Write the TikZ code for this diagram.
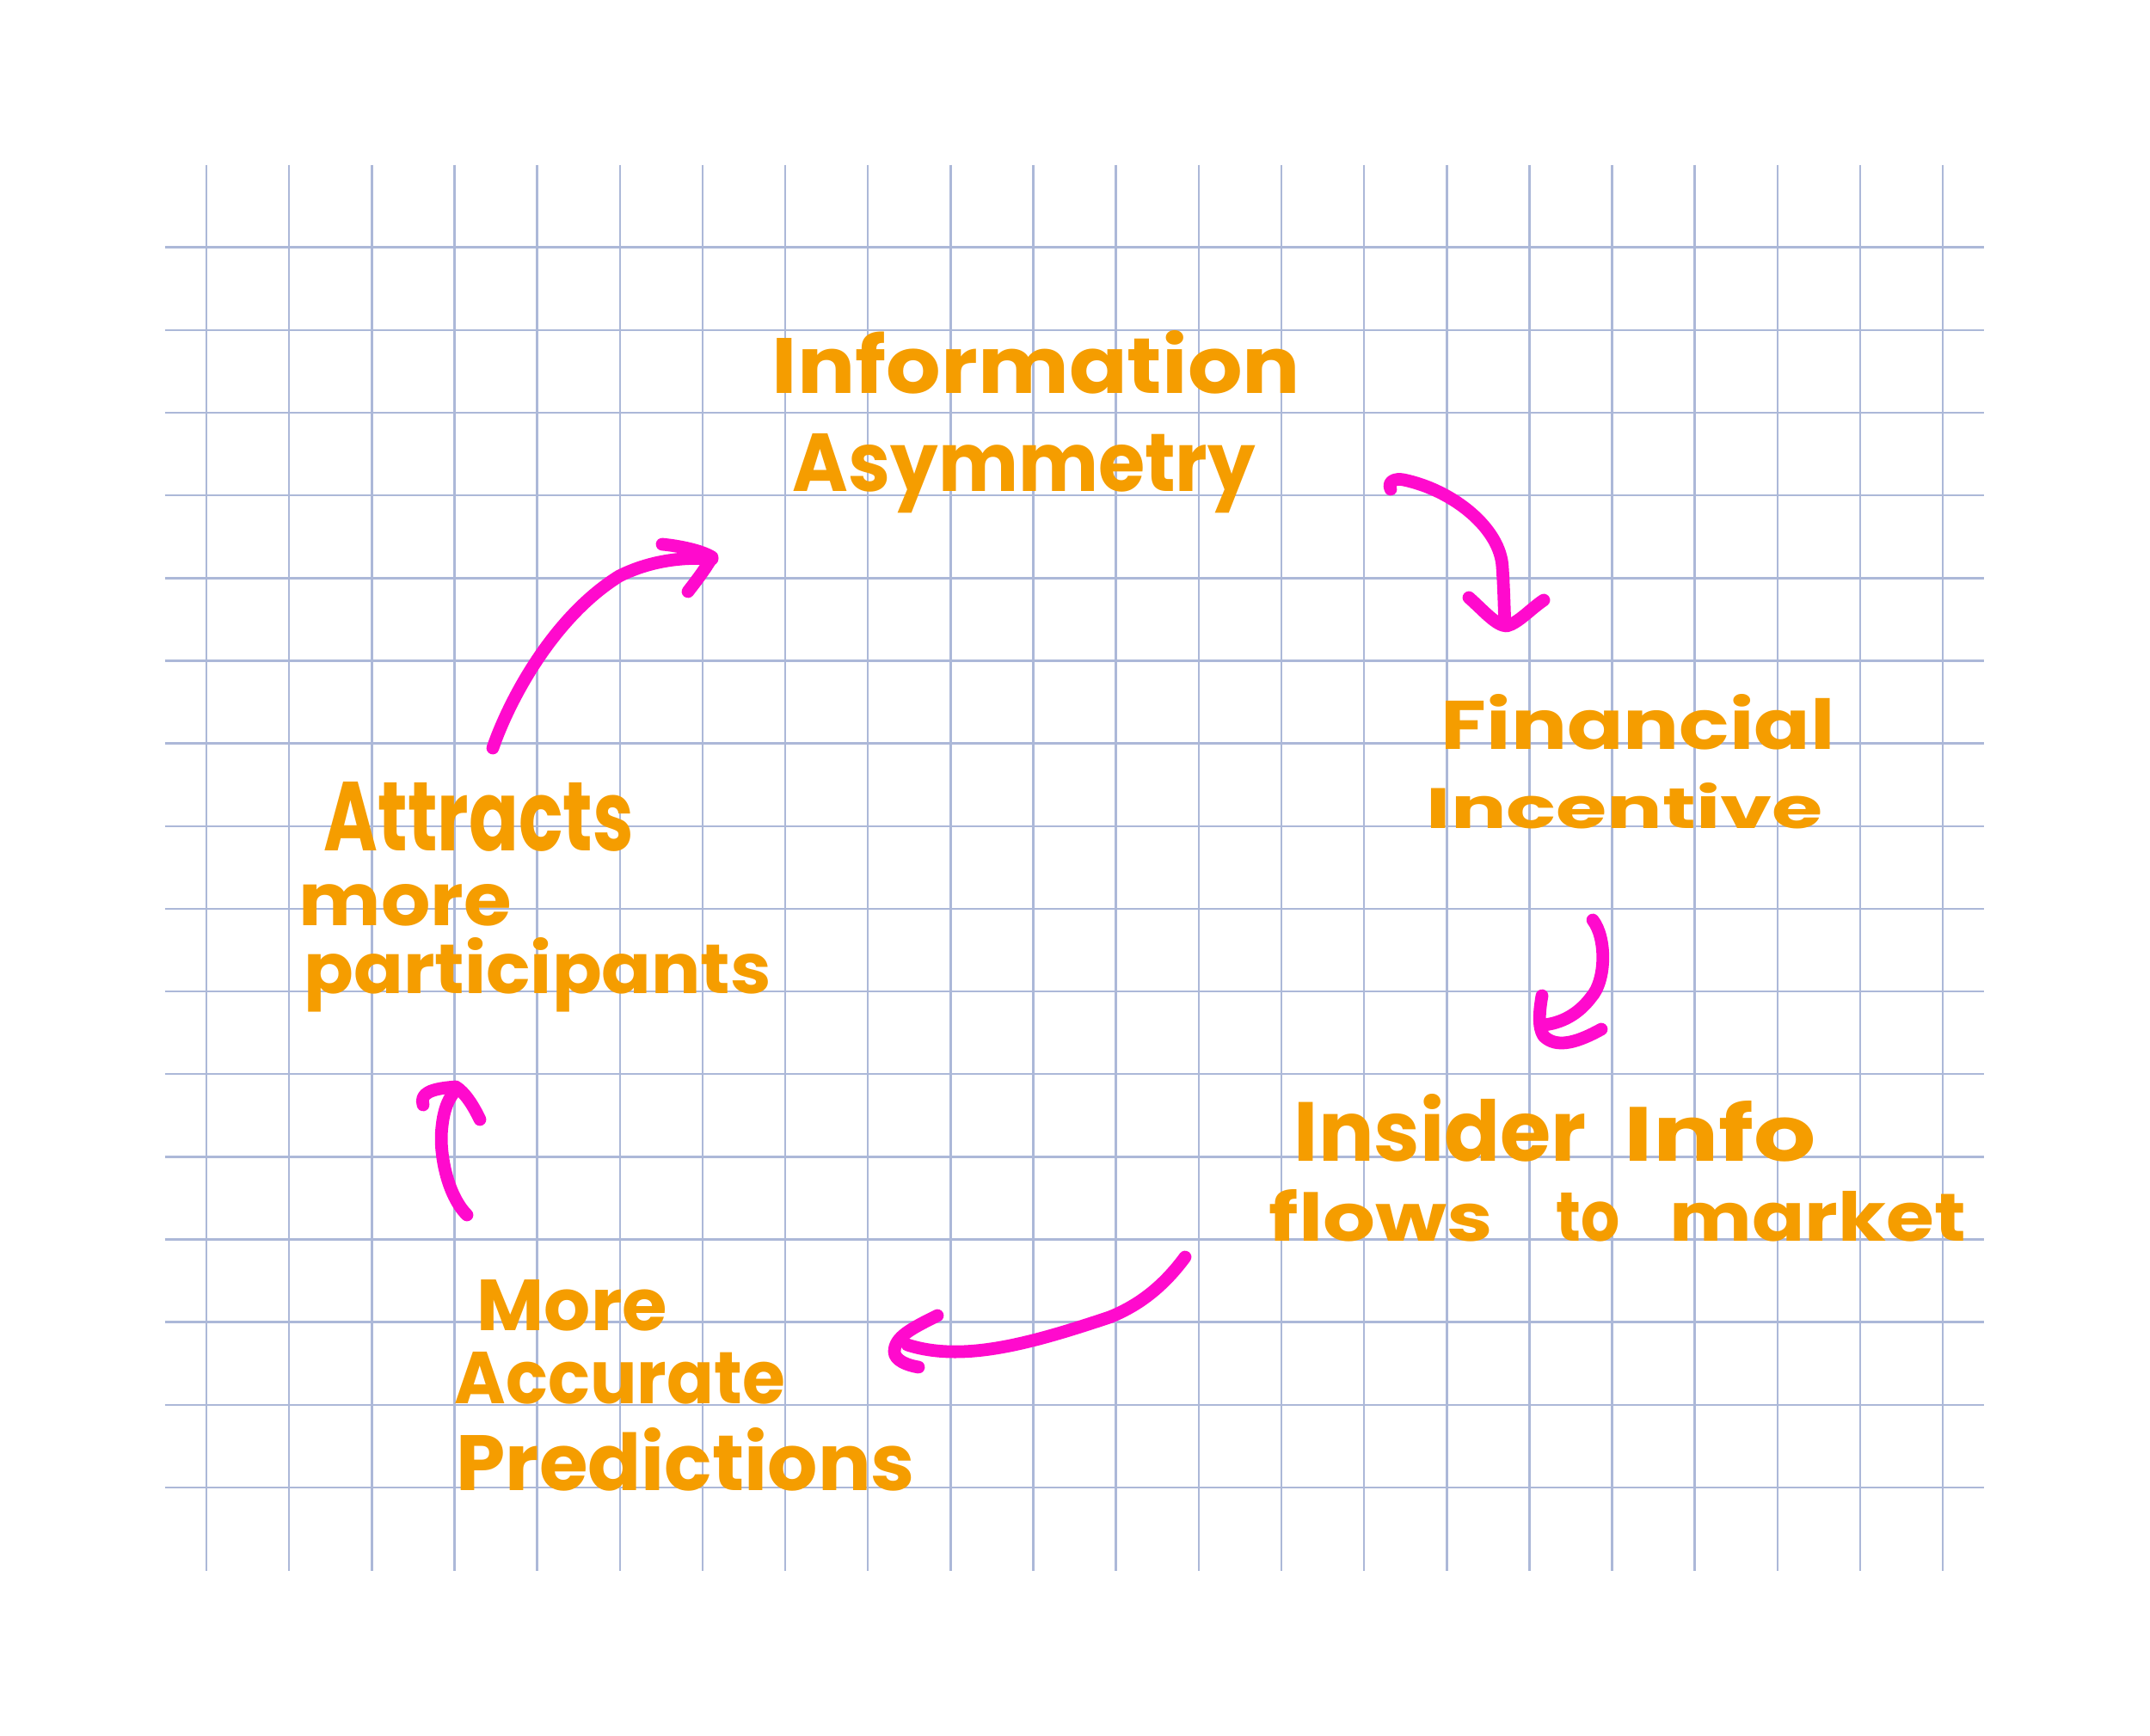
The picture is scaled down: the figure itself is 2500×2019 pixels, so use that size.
\documentclass[tikz,border=0pt]{standalone}
\usepackage{fontspec}
\setmainfont{Poppins}
\usepackage{graphicx}
\definecolor{gridC}{RGB}{172,184,216}
\definecolor{orangeC}{RGB}{245,157,0}
\definecolor{pinkC}{RGB}{255,10,205}
\newcommand{\hw}[3]{\resizebox{#1}{#2}{#3}}
\tikzset{
  gridline/.style={draw=gridC, line width=0.7pt},
  txt/.style={anchor=base west, inner sep=0pt, text=orangeC, font=\bfseries},
  pen/.style={draw=pinkC, line width=4.2pt, line cap=round, line join=round}
}
\begin{document}
\begin{tikzpicture}[x=0.01cm,y=-0.01cm]
\useasboundingbox[fill=white] (0,0) rectangle (2500,2019);
% grid
\foreach \i in {0,...,21}
  \draw[gridline] ({240+96.15*\i},191.7) -- ({240+96.15*\i},1826.7);
\foreach \j in {0,...,15}
  \draw[gridline] (191.7,{287.7+96.15*\j}) -- (2307,{287.7+96.15*\j});
% texts
\node[txt] (ia1) at (897,458) {\hw{6.14cm}{0.73cm}{Information}};
\node[txt] (ia2) at (921,572) {\hw{5.38cm}{0.67cm}{Asymmetry}};
\node[txt] (fi1) at (1675,872) {\hw{4.58cm}{0.64cm}{Financial}};
\node[txt] (fi2) at (1658,963) {\hw{4.61cm}{0.53cm}{Incentive}};
\node[txt] (in1a) at (1504,1350) {\hw{3.40cm}{0.78cm}{Insider}};
\node[txt] (in1b) at (1888,1350) {\hw{2.23cm}{0.70cm}{Info}};
\node[txt] (in2a) at (1475,1443) {\hw{2.60cm}{0.60cm}{flows}};
\node[txt] (in2b) at (1809,1443) {\hw{0.74cm}{0.56cm}{to}};
\node[txt] (in2c) at (1941,1443) {\hw{3.44cm}{0.58cm}{market}};
\node[txt] (pr1) at (554,1547) {\hw{2.21cm}{0.59cm}{More}};
\node[txt] (pr2) at (528,1632) {\hw{3.84cm}{0.60cm}{Accurate}};
\node[txt] (pr3) at (530,1733) {\hw{5.33cm}{0.73cm}{Predictions}};
\node[txt] (at1) at (376,990) {\hw{3.60cm}{0.80cm}{Attracts}};
\node[txt] (at2) at (347,1077) {\hw{2.47cm}{0.48cm}{more}};
\node[txt] (at3) at (353,1155) {\hw{5.43cm}{0.65cm}{participants}};
% arrow end points
\coordinate (a1s) at (1617,569);
\coordinate (a1e) at (1750,727);
\coordinate (a2s) at (1852,1070);
\coordinate (a2e) at (1795,1192);
\coordinate (a3s) at (1378,1462);
\coordinate (a3e) at (1055,1564);
\coordinate (a4s) at (543,1413);
\coordinate (a4e) at (532,1266);
\coordinate (a5s) at (573,870);
\coordinate (a5e) at (828,650);
% arrow 1: Information Asymmetry -> Financial Incentive
\draw[pen] (a1s) .. controls (1613,560) and (1622,556) .. (1632,558)
  .. controls (1690,570) and (1745,615) .. (1747,660)
  .. controls (1749,690) and (1749,710) .. (a1e);
\draw[pen] (1708,695) .. controls (1725,710) and (1740,728) .. (1752,728)
  .. controls (1765,725) and (1780,708) .. (1795,698);
% arrow 2: Financial Incentive -> Insider Info
\draw[pen] (a2s) .. controls (1868,1090) and (1868,1140) .. (1850,1160)
  .. controls (1835,1180) and (1815,1190) .. (a2e);
\draw[pen] (1793,1158) .. controls (1790,1175) and (1788,1195) .. (1795,1205)
  .. controls (1810,1220) and (1835,1212) .. (1862,1197);
% arrow 3: Insider Info -> More Accurate Predictions
\draw[pen] (a3s) .. controls (1350,1500) and (1320,1520) .. (1290,1532)
  .. controls (1200,1562) and (1120,1585) .. (a3e);
\draw[pen] (1090,1530) .. controls (1060,1545) and (1040,1555) .. (1040,1572)
  .. controls (1040,1582) and (1055,1588) .. (1068,1590);
% arrow 4: More Accurate Predictions -> Attracts more participants
\draw[pen] (a4s) .. controls (520,1390) and (510,1340) .. (514,1310)
  .. controls (516,1290) and (522,1275) .. (a4e);
\draw[pen] (492,1285) .. controls (488,1272) and (500,1266) .. (530,1264)
  .. controls (540,1270) and (550,1285) .. (558,1302);
% arrow 5: Attracts more participants -> Information Asymmetry
\draw[pen] (a5s) .. controls (590,820) and (640,720) .. (720,670)
  .. controls (760,650) and (800,648) .. (a5e);
\draw[pen] (770,633) .. controls (790,635) and (815,640) .. (828,648)
  .. controls (820,662) and (810,675) .. (800,688);
\end{tikzpicture}
\end{document}
